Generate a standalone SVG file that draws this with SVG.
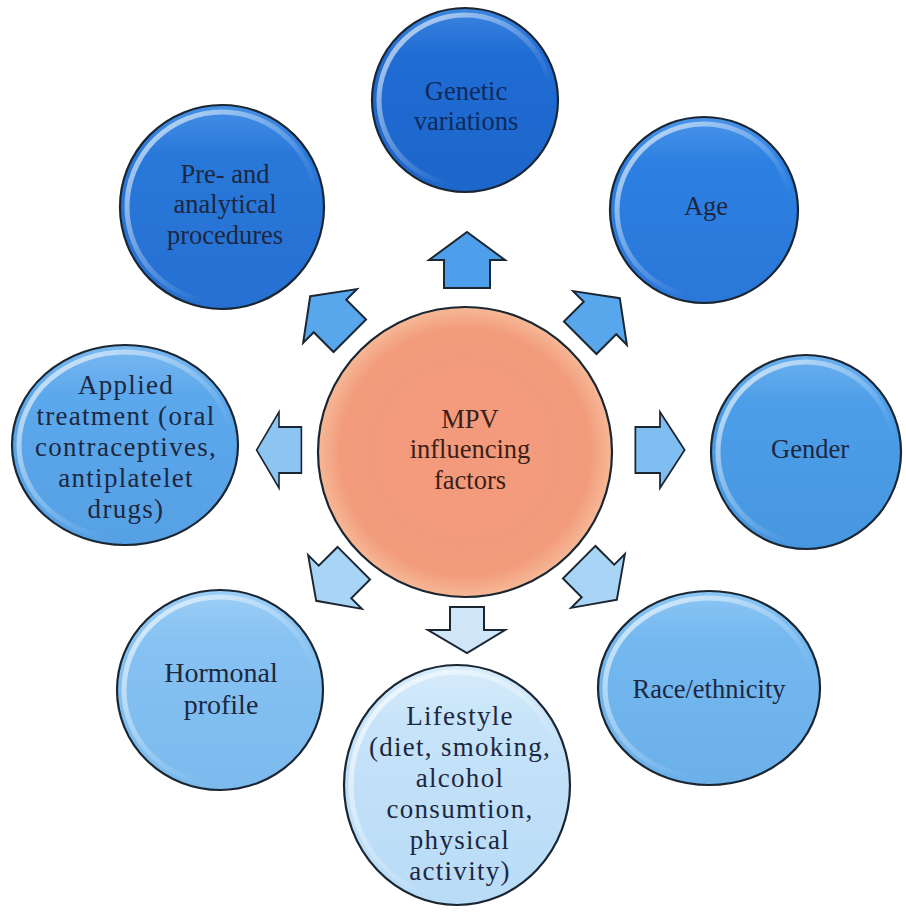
<svg xmlns="http://www.w3.org/2000/svg" xmlns:xlink="http://www.w3.org/1999/xlink" width="906" height="915" viewBox="0 0 906 915">
<style>
.node-shape{stroke:#1b2633;stroke-width:2.2}
.rim{fill:none;stroke:url(#rimHi);stroke-width:5}
.lbl{font-family:"Liberation Serif","Times New Roman",serif;font-size:26.5px;fill:#1d2740;text-anchor:middle}
.lbl-dark{fill:#0e2a5c}
.big{font-size:27px;letter-spacing:1.3px}
.arrow{stroke:#1b2633;stroke-width:2;stroke-linejoin:miter}
</style>
<defs>
<linearGradient id="rimHi" x1="0" y1="0" x2="1" y2="1">
<stop offset="0" stop-color="#ffffff" stop-opacity="0.75"/>
<stop offset="0.45" stop-color="#ffffff" stop-opacity="0.25"/>
<stop offset="0.7" stop-color="#ffffff" stop-opacity="0"/>
</linearGradient>
<linearGradient id="gGen" x1="0" y1="0" x2="0" y2="1"><stop offset="0" stop-color="#3b86e0"/><stop offset="0.25" stop-color="#1f6cd4"/><stop offset="1" stop-color="#1d66ca"/></linearGradient>
<linearGradient id="gPre" x1="0" y1="0" x2="0" y2="1"><stop offset="0" stop-color="#4590e4"/><stop offset="0.25" stop-color="#2878da"/><stop offset="1" stop-color="#2670d2"/></linearGradient>
<linearGradient id="gAge" x1="0" y1="0" x2="0" y2="1"><stop offset="0" stop-color="#4a94e8"/><stop offset="0.25" stop-color="#2c80e2"/><stop offset="1" stop-color="#2a77d8"/></linearGradient>
<linearGradient id="gGender" x1="0" y1="0" x2="0" y2="1"><stop offset="0" stop-color="#6cb0ee"/><stop offset="0.25" stop-color="#4c9ee8"/><stop offset="1" stop-color="#4796e0"/></linearGradient>
<linearGradient id="gApp" x1="0" y1="0" x2="0" y2="1"><stop offset="0" stop-color="#7ab8f0"/><stop offset="0.25" stop-color="#5ca8ec"/><stop offset="1" stop-color="#56a0e4"/></linearGradient>
<linearGradient id="gRace" x1="0" y1="0" x2="0" y2="1"><stop offset="0" stop-color="#8cc6f4"/><stop offset="0.25" stop-color="#74b8f0"/><stop offset="1" stop-color="#6cb0ea"/></linearGradient>
<linearGradient id="gHor" x1="0" y1="0" x2="0" y2="1"><stop offset="0" stop-color="#9ccff6"/><stop offset="0.25" stop-color="#86c2f2"/><stop offset="1" stop-color="#7cbaee"/></linearGradient>
<linearGradient id="gLife" x1="0" y1="0" x2="0" y2="1"><stop offset="0" stop-color="#d8ecfb"/><stop offset="0.25" stop-color="#c6e3f9"/><stop offset="1" stop-color="#b8dbf6"/></linearGradient>
<radialGradient id="gMPV" cx="0.5" cy="0.5" r="0.5"><stop offset="0" stop-color="#f49a7c"/><stop offset="0.85" stop-color="#f29c7c"/><stop offset="1" stop-color="#f6b896"/></radialGradient>
<path id="arr" class="arrow" d="M0,-28 L38,0 L23,0 L23,28 L-23,28 L-23,0 L-38,0 Z"/>
</defs>
<rect width="906" height="915" fill="#ffffff"/>

<g id="connectors">
<use xlink:href="#arr" fill="#4d9feb" transform="translate(467,260)"/>
<use xlink:href="#arr" fill="#58a6ec" transform="translate(330,316) rotate(-45)"/>
<use xlink:href="#arr" fill="#58a6ec" transform="translate(600,318) rotate(45)"/>
<use xlink:href="#arr" fill="#80bdf1" transform="translate(660,450) rotate(90) scale(1,0.88)"/>
<use xlink:href="#arr" fill="#8cc4f2" transform="translate(279,450) rotate(-90) scale(1,0.8)"/>
<use xlink:href="#arr" fill="#a8d5f5" transform="translate(598,581) rotate(135) scale(1,0.95)"/>
<use xlink:href="#arr" fill="#a8d5f5" transform="translate(335,582) rotate(-135) scale(1,0.95)"/>
<path class="arrow" fill="#cfe6f9" d="M450,607 L484,607 L484,630 L505,630 L467,653 L428,630 L450,630 Z"/>
</g>

<g id="mpv">
<ellipse class="node-shape" cx="465" cy="452" rx="147" ry="145" fill="url(#gMPV)"/>
<text class="lbl" style="fill:#3a2018"><tspan x="470" y="428">MPV</tspan><tspan x="470" y="458">influencing</tspan><tspan x="470" y="489">factors</tspan></text>
</g>

<g id="genetic">
<ellipse class="node-shape" cx="465" cy="100" rx="93" ry="92" fill="url(#gGen)"/>
<ellipse class="rim" cx="465" cy="100" rx="86" ry="85"/>
<text class="lbl lbl-dark"><tspan x="466" y="100">Genetic</tspan><tspan x="466" y="130">variations</tspan></text>
</g>

<g id="pre">
<ellipse class="node-shape" cx="222" cy="207" rx="102" ry="102" fill="url(#gPre)"/>
<ellipse class="rim" cx="222" cy="207" rx="95" ry="95"/>
<text class="lbl"><tspan x="225" y="183">Pre- and</tspan><tspan x="225" y="213">analytical</tspan><tspan x="225" y="244">procedures</tspan></text>
</g>

<g id="age">
<ellipse class="node-shape" cx="704" cy="210" rx="94" ry="93" fill="url(#gAge)"/>
<ellipse class="rim" cx="704" cy="210" rx="87" ry="86"/>
<text class="lbl"><tspan x="706" y="215">Age</tspan></text>
</g>

<g id="gender">
<ellipse class="node-shape" cx="806" cy="452" rx="95" ry="97" fill="url(#gGender)"/>
<ellipse class="rim" cx="806" cy="452" rx="88" ry="90"/>
<text class="lbl"><tspan x="810" y="458">Gender</tspan></text>
</g>

<g id="applied">
<ellipse class="node-shape" cx="125" cy="445" rx="113" ry="100" fill="url(#gApp)"/>
<ellipse class="rim" cx="125" cy="445" rx="106" ry="93"/>
<text class="lbl big"><tspan x="126" y="394">Applied</tspan><tspan x="126" y="425">treatment (oral</tspan><tspan x="126" y="456">contraceptives,</tspan><tspan x="126" y="487">antiplatelet</tspan><tspan x="126" y="518">drugs)</tspan></text>
</g>

<g id="race">
<ellipse class="node-shape" cx="709" cy="688" rx="111" ry="97" fill="url(#gRace)"/>
<ellipse class="rim" cx="709" cy="688" rx="104" ry="90"/>
<text class="lbl"><tspan x="709" y="698">Race/ethnicity</tspan></text>
</g>

<g id="hormonal">
<ellipse class="node-shape" cx="220" cy="690" rx="103" ry="100" fill="url(#gHor)"/>
<ellipse class="rim" cx="220" cy="690" rx="96" ry="93"/>
<text class="lbl" style="font-size:28px"><tspan x="221" y="682">Hormonal</tspan><tspan x="221" y="714">profile</tspan></text>
</g>

<g id="lifestyle">
<ellipse class="node-shape" cx="457" cy="785" rx="113" ry="120" fill="url(#gLife)"/>
<ellipse class="rim" cx="457" cy="785" rx="106" ry="113"/>
<text class="lbl big"><tspan x="460" y="725">Lifestyle</tspan><tspan x="460" y="756">(diet, smoking,</tspan><tspan x="460" y="787">alcohol</tspan><tspan x="460" y="818">consumtion,</tspan><tspan x="460" y="849">physical</tspan><tspan x="460" y="880">activity)</tspan></text>
</g>
</svg>
